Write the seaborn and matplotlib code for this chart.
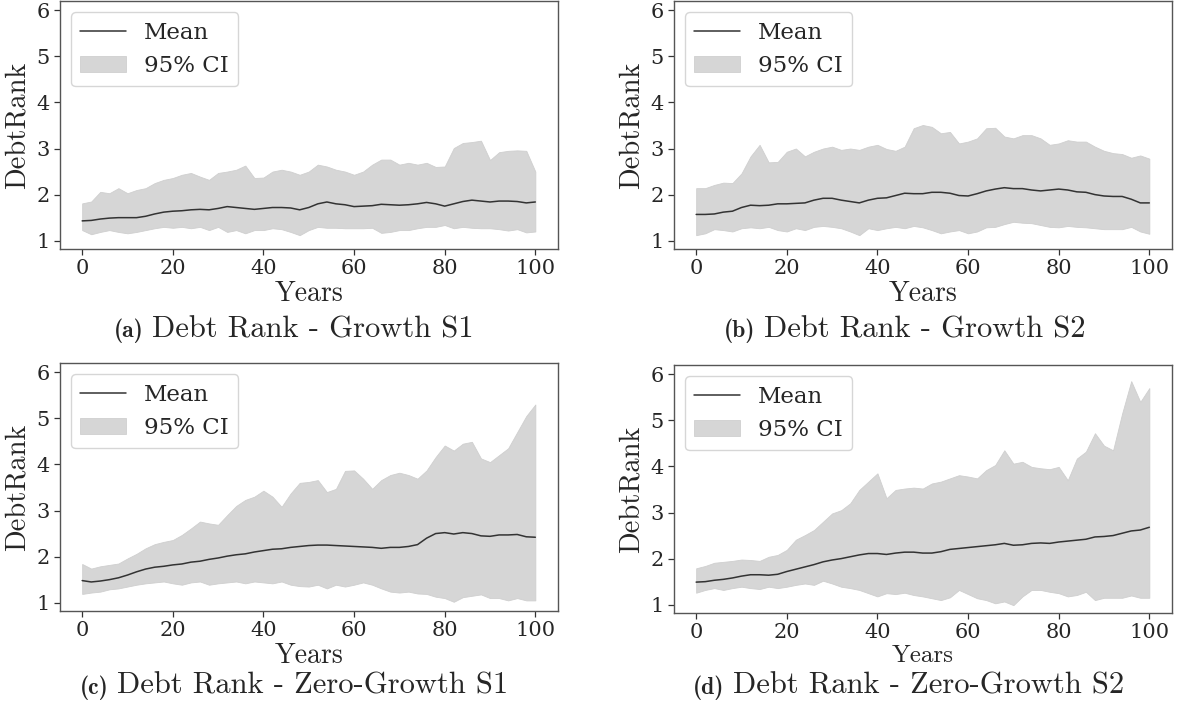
import numpy as np
import pandas as pd
import matplotlib
matplotlib.use("Agg")
import matplotlib.pyplot as plt
import seaborn as sns

years = list(range(0, 101, 2))

# (a) Growth S1
mean_a = [1.43, 1.44, 1.47, 1.49, 1.50, 1.50, 1.50, 1.53, 1.58, 1.62, 1.64, 1.65, 1.67, 1.68, 1.67, 1.70, 1.74, 1.72,
          1.70, 1.68, 1.70, 1.72, 1.72, 1.71, 1.67, 1.72, 1.80, 1.84, 1.80, 1.78, 1.74, 1.75, 1.76, 1.79, 1.78, 1.77,
          1.78, 1.80, 1.83, 1.80, 1.75, 1.80, 1.85, 1.88, 1.86, 1.84, 1.86, 1.86, 1.85, 1.82, 1.84]
upper_a = [1.81, 1.85, 2.06, 2.03, 2.14, 2.03, 2.10, 2.14, 2.25, 2.32, 2.36, 2.43, 2.47, 2.39, 2.32, 2.47, 2.50, 2.54,
           2.63, 2.36, 2.37, 2.50, 2.54, 2.50, 2.43, 2.50, 2.65, 2.61, 2.54, 2.50, 2.43, 2.50, 2.65, 2.76, 2.76, 2.65,
           2.69, 2.65, 2.69, 2.60, 2.61, 3.01, 3.12, 3.14, 3.17, 2.75, 2.92, 2.95, 2.96, 2.95, 2.50]
lower_a = [1.23, 1.14, 1.19, 1.23, 1.19, 1.16, 1.19, 1.23, 1.27, 1.30, 1.28, 1.30, 1.27, 1.30, 1.23, 1.30, 1.19, 1.23,
           1.16, 1.23, 1.23, 1.27, 1.25, 1.19, 1.12, 1.23, 1.30, 1.28, 1.28, 1.27, 1.27, 1.27, 1.28, 1.17, 1.19, 1.23,
           1.23, 1.27, 1.30, 1.30, 1.34, 1.27, 1.30, 1.28, 1.27, 1.27, 1.25, 1.22, 1.25, 1.18, 1.20]

# (b) Growth S2
mean_b = [1.57, 1.57, 1.58, 1.62, 1.64, 1.72, 1.77, 1.76, 1.77, 1.80, 1.80, 1.81, 1.82, 1.88, 1.92, 1.92, 1.88, 1.85,
          1.82, 1.88, 1.92, 1.93, 1.98, 2.03, 2.02, 2.02, 2.05, 2.05, 2.03, 1.98, 1.97, 2.02, 2.08, 2.12, 2.15, 2.13,
          2.13, 2.10, 2.08, 2.10, 2.12, 2.10, 2.06, 2.05, 2.00, 1.97, 1.96, 1.96, 1.90, 1.82, 1.82]
upper_b = [2.14, 2.14, 2.21, 2.26, 2.25, 2.46, 2.83, 3.08, 2.70, 2.71, 2.93, 3.00, 2.83, 2.93, 3.00, 3.04, 2.97, 3.00,
           2.97, 3.04, 3.08, 2.99, 2.95, 3.04, 3.44, 3.51, 3.47, 3.33, 3.36, 3.11, 3.15, 3.22, 3.44, 3.45, 3.26, 3.22,
           3.29, 3.29, 3.22, 3.08, 3.11, 3.18, 3.15, 3.15, 3.04, 2.95, 2.90, 2.88, 2.80, 2.85, 2.78]
lower_b = [1.12, 1.16, 1.25, 1.23, 1.20, 1.27, 1.29, 1.27, 1.30, 1.23, 1.20, 1.27, 1.23, 1.30, 1.32, 1.30, 1.27, 1.20,
           1.12, 1.27, 1.23, 1.27, 1.30, 1.27, 1.32, 1.29, 1.23, 1.16, 1.20, 1.23, 1.16, 1.20, 1.29, 1.30, 1.36, 1.41,
           1.39, 1.38, 1.34, 1.30, 1.29, 1.32, 1.30, 1.29, 1.27, 1.25, 1.25, 1.25, 1.30, 1.20, 1.15]

# (c) Zero-Growth S1
mean_c = [1.48, 1.45, 1.47, 1.50, 1.54, 1.60, 1.67, 1.73, 1.77, 1.79, 1.82, 1.84, 1.88, 1.90, 1.94, 1.97, 2.01, 2.04,
          2.06, 2.10, 2.13, 2.16, 2.17, 2.20, 2.22, 2.24, 2.25, 2.25, 2.24, 2.23, 2.22, 2.21, 2.20, 2.18, 2.20, 2.20,
          2.22, 2.26, 2.40, 2.50, 2.52, 2.49, 2.52, 2.50, 2.45, 2.44, 2.47, 2.47, 2.48, 2.43, 2.42]
upper_c = [1.84, 1.74, 1.79, 1.82, 1.85, 1.96, 2.06, 2.18, 2.27, 2.32, 2.36, 2.47, 2.61, 2.76, 2.72, 2.69, 2.90, 3.10,
           3.23, 3.30, 3.43, 3.30, 3.08, 3.37, 3.60, 3.62, 3.66, 3.40, 3.47, 3.86, 3.87, 3.69, 3.47, 3.66, 3.77, 3.82,
           3.77, 3.69, 3.87, 4.16, 4.41, 4.30, 4.45, 4.49, 4.13, 4.05, 4.20, 4.35, 4.70, 5.05, 5.30]
lower_c = [1.19, 1.22, 1.24, 1.29, 1.31, 1.35, 1.39, 1.42, 1.44, 1.46, 1.42, 1.39, 1.44, 1.46, 1.39, 1.42, 1.44, 1.46,
           1.42, 1.46, 1.44, 1.42, 1.46, 1.39, 1.36, 1.35, 1.39, 1.31, 1.39, 1.35, 1.39, 1.44, 1.39, 1.31, 1.24, 1.22,
           1.24, 1.20, 1.19, 1.13, 1.10, 1.02, 1.12, 1.15, 1.18, 1.10, 1.10, 1.05, 1.10, 1.05, 1.05]

# (d) Zero-Growth S2
mean_d = [1.49, 1.50, 1.53, 1.55, 1.58, 1.62, 1.65, 1.65, 1.64, 1.66, 1.72, 1.77, 1.82, 1.87, 1.93, 1.97, 2.00, 2.04,
          2.08, 2.11, 2.11, 2.09, 2.12, 2.14, 2.14, 2.12, 2.12, 2.15, 2.20, 2.22, 2.24, 2.26, 2.28, 2.30, 2.33, 2.29,
          2.30, 2.33, 2.34, 2.33, 2.36, 2.38, 2.40, 2.42, 2.47, 2.48, 2.50, 2.55, 2.60, 2.62, 2.68]
upper_d = [1.79, 1.84, 1.91, 1.93, 1.95, 1.98, 1.97, 1.95, 2.04, 2.08, 2.19, 2.41, 2.51, 2.62, 2.80, 2.98, 3.05, 3.20,
           3.49, 3.67, 3.85, 3.31, 3.49, 3.52, 3.54, 3.52, 3.63, 3.67, 3.74, 3.81, 3.78, 3.74, 3.92, 4.03, 4.35, 4.06,
           4.10, 3.99, 3.96, 3.94, 3.99, 3.70, 4.17, 4.32, 4.72, 4.45, 4.35, 5.15, 5.85, 5.40, 5.70]
lower_d = [1.26, 1.32, 1.36, 1.32, 1.36, 1.39, 1.36, 1.34, 1.39, 1.36, 1.39, 1.43, 1.46, 1.43, 1.52, 1.46, 1.39, 1.36,
           1.32, 1.25, 1.18, 1.25, 1.23, 1.26, 1.21, 1.18, 1.14, 1.10, 1.16, 1.32, 1.23, 1.14, 1.10, 1.03, 1.07, 0.99,
           1.18, 1.32, 1.32, 1.28, 1.25, 1.18, 1.21, 1.28, 1.10, 1.15, 1.15, 1.15, 1.20, 1.15, 1.15]

panel_letters = ["(a)", "(b)", "(c)", "(d)"]
panel_titles = ["Debt Rank - Growth S1", "Debt Rank - Growth S2",
                "Debt Rank - Zero-Growth S1", "Debt Rank - Zero-Growth S2"]
y_ticks = [1, 2, 3, 4, 5, 6]
x_ticks = [0, 20, 40, 60, 80, 100]

sns.set_theme(style="ticks")
plt.rcParams["font.family"] = ["DejaVu Serif"]
plt.rcParams["axes.edgecolor"] = "#555555"
plt.rcParams["axes.linewidth"] = 1.0

fig = plt.figure(figsize=(11.8, 7.08), dpi=100)
W, H = 1180, 708
boxes = [(59.5, 1, 558, 249), (673.5, 1, 1172, 249), (59.5, 363, 558, 611), (673.5, 365, 1172, 613)]
# (centre of caption main text, baseline)
caption_pos = [(313, 337), (925, 337), (313, 694), (929, 694)]

series = [(mean_a, upper_a, lower_a), (mean_b, upper_b, lower_b),
          (mean_c, upper_c, lower_c), (mean_d, upper_d, lower_d)]

for i, (box, (m, up, lo)) in enumerate(zip(boxes, series)):
    l, t, r, b = box
    ax = fig.add_axes([l / W, 1 - b / H, (r - l) / W, (b - t) / H])
    df = pd.DataFrame({"Years": years, "Mean": m, "Upper": up, "Lower": lo})
    ax.fill_between(df["Years"], df["Lower"], df["Upper"], color="#d6d6d6",
                    edgecolor="#cfcfcf", linewidth=0.6, label="95% CI")
    sns.lineplot(data=df, x="Years", y="Mean", ax=ax, color="#333333", linewidth=1.1, label="Mean")
    ax.set_xlim(-5, 105)
    ax.set_ylim(0.82, 6.2)
    ax.set_xticks(x_ticks)
    ax.set_yticks(y_ticks)
    ax.tick_params(labelsize=15, length=4, width=0.9, color="#333333", pad=3)
    ax.set_xlabel("Years", fontsize=18 if i == 3 else 20, labelpad=2, family="cmr10")
    ax.set_ylabel("DebtRank", fontsize=20.5, labelpad=4, family="cmr10")
    handles, labels = ax.get_legend_handles_labels()
    order = [labels.index("Mean"), labels.index("95% CI")]
    ax.legend([handles[k] for k in order], [labels[k] for k in order], loc="upper left",
              fontsize=16.5, frameon=True)
    cx, cy = caption_pos[i]
    main_txt = fig.text(cx / W, 1 - cy / H, panel_titles[i], fontsize=22, family="cmr10",
                        ha="center", va="baseline")
    ax.annotate(panel_letters[i], xy=(0, 0), xycoords=main_txt, xytext=(-9, 0),
                textcoords="offset pixels", fontsize=17, family="cmb10",
                ha="right", va="bottom", annotation_clip=False)

fig.savefig("out.png", dpi=100)
